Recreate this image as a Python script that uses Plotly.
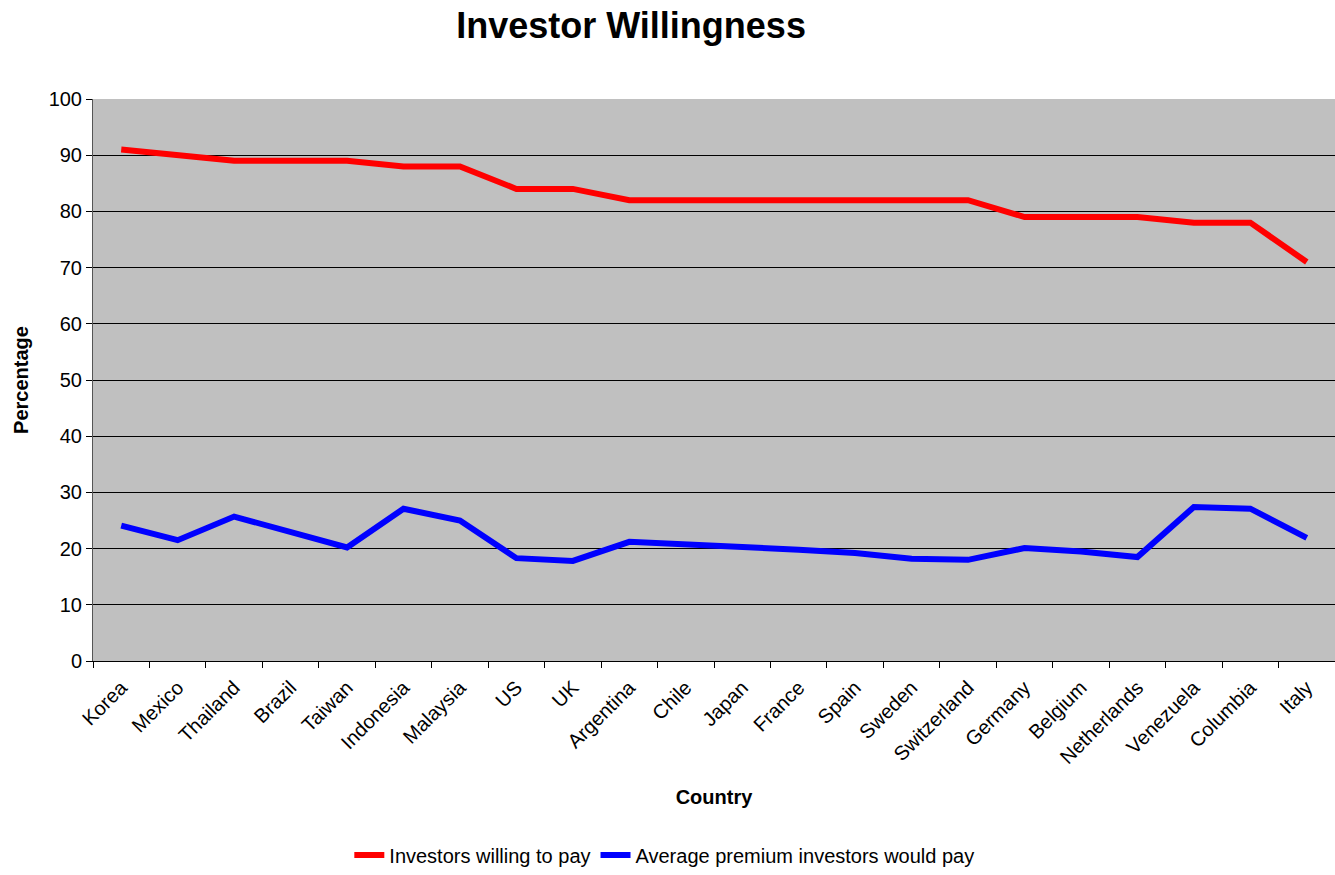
import plotly.graph_objects as go

countries = ["Korea", "Mexico", "Thailand", "Brazil", "Taiwan", "Indonesia", "Malaysia",
             "US", "UK", "Argentina", "Chile", "Japan", "France", "Spain", "Sweden",
             "Switzerland", "Germany", "Belgium", "Netherlands", "Venezuela", "Columbia", "Italy"]

willing_to_pay = [91, 90, 89, 89, 89, 88, 88, 84, 84, 82, 82, 82, 82, 82, 82,
                  82, 79, 79, 79, 78, 78, 71]

avg_premium = [24.1, 21.5, 25.7, 23.0, 20.2, 27.1, 25.0, 18.3, 17.8, 21.2, 20.8,
               20.2, 19.8, 19.2, 18.2, 18.0, 20.1, 19.5, 18.5, 27.4, 27.1, 21.9]

y_ticks = list(range(0, 101, 10))

FONT = "Liberation Sans, Arial, sans-serif"

fig = go.Figure()
fig.add_trace(go.Scatter(x=countries, y=willing_to_pay, mode="lines",
                         name="Investors willing to pay",
                         line=dict(color="#FF0000", width=6)))
fig.add_trace(go.Scatter(x=countries, y=avg_premium, mode="lines",
                         name="Average premium investors would pay",
                         line=dict(color="#0000FF", width=6)))

fig.update_layout(
    width=1335, height=875,
    margin=dict(l=93, r=0, t=99, b=208),
    paper_bgcolor="white",
    plot_bgcolor="#C0C0C0",
    font=dict(family=FONT, size=20, color="black"),
    title=dict(text="<b>Investor Willingness</b>", x=0.4727, xanchor="center",
               y=0.971, yanchor="middle", font=dict(size=36, family=FONT)),
    showlegend=True,
    legend=dict(orientation="h", x=0.46, xanchor="center", y=-0.345, yanchor="middle",
                font=dict(size=20), traceorder="normal",
                bgcolor="rgba(0,0,0,0)"),
)

fig.update_xaxes(
    type="category", range=[-0.5, len(countries) - 0.5],
    tickangle=-45, tickson="boundaries",
    ticks="outside", ticklen=6, tickcolor="black",
    showline=True, linecolor="black", linewidth=1,
    showgrid=False, automargin=False,
    tickfont=dict(size=20), ticklabelstandoff=6,
    title=dict(text="<b>Country</b>", font=dict(size=20), standoff=22),
)
fig.update_yaxes(
    range=[0, 100], tickvals=y_ticks,
    ticks="outside", ticklen=6, tickcolor="black",
    showline=True, linecolor="#555555", linewidth=1,
    showgrid=True, gridcolor="black", gridwidth=1,
    zeroline=False, automargin=False,
    tickfont=dict(size=20),
    title=dict(text="<b>Percentage</b>", font=dict(size=20), standoff=14),
)

fig.write_html("out.html")
